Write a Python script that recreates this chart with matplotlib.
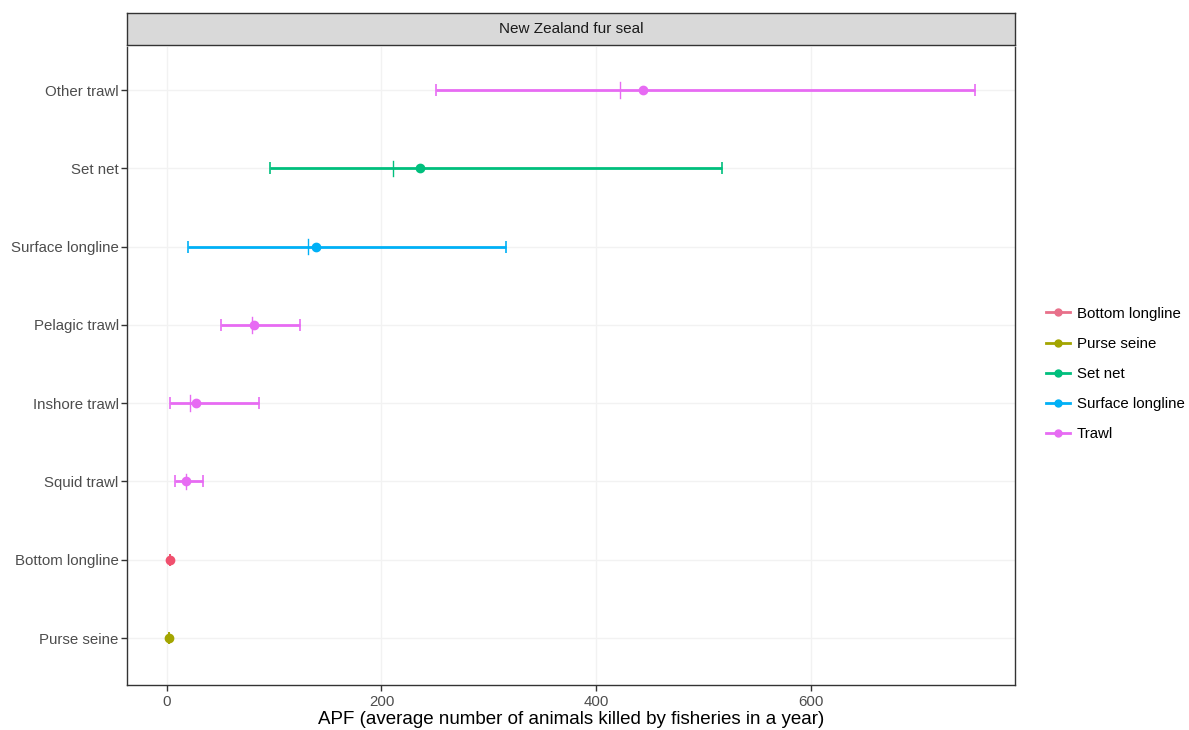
import matplotlib
matplotlib.use("Agg")
import matplotlib.pyplot as plt
from matplotlib.lines import Line2D

plt.rcParams['font.family'] = ['Liberation Sans', 'DejaVu Sans']

categories = ["Purse seine", "Bottom longline", "Squid trawl", "Inshore trawl",
              "Pelagic trawl", "Surface longline", "Set net", "Other trawl"]
method = ["Purse seine", "Bottom longline", "Trawl", "Trawl",
          "Trawl", "Surface longline", "Set net", "Trawl"]
mean_apf = [2, 3, 18, 27, 81, 139, 236, 444]
median_apf = [2, 3, 18, 22, 79, 132, 211, 422]
lower_ci = [2, 3, 8, 3, 51, 20, 96, 251]
upper_ci = [2, 3, 34, 86, 124, 316, 517, 753]

legend_labels = ["Bottom longline", "Purse seine", "Set net", "Surface longline", "Trawl"]
legend_colors = ["#F8766D", "#A3A500", "#00BF7D", "#00B0F6", "#E76BF3"]
color_map = dict(zip(legend_labels, legend_colors))
bl_color = "#F0506E"

fig = plt.figure(figsize=(11.89, 7.30), dpi=100)
ax = fig.add_axes([127/1189, 1-685/730, (1015-127)/1189, (685-47)/730])

ypos = list(range(len(categories)))
for i, cat in enumerate(categories):
    c = color_map[method[i]]
    if method[i] == "Bottom longline":
        c = bl_color
    ax.errorbar(mean_apf[i], ypos[i],
                xerr=[[mean_apf[i]-lower_ci[i]], [upper_ci[i]-mean_apf[i]]],
                fmt='o', color=c, ms=6, elinewidth=2, capsize=4, capthick=1.2, zorder=3)
    if upper_ci[i] > lower_ci[i]:
        ax.plot([median_apf[i], median_apf[i]], [ypos[i]-0.1, ypos[i]+0.1],
                color=c, lw=1.0, zorder=3)

ax.set_yticks(ypos)
ax.set_yticklabels(categories)
ax.set_xticks([0, 200, 400, 600])
ax.set_xlim(-37, 790)
ax.set_ylim(-0.6, 7.55)
ax.grid(True, color="#f2f2f2", lw=1.0, zorder=0)
ax.set_axisbelow(True)
for s in ax.spines.values():
    s.set_color("#333333")
    s.set_linewidth(1.0)
ax.spines['top'].set_visible(False)
ax.tick_params(axis='both', colors="#333333", labelsize=10.8, length=4, width=1, labelcolor="#4d4d4d")
ax.tick_params(axis='y', pad=2)
ax.set_xlabel("APF (average number of animals killed by fisheries in a year)",
              fontsize=13.5, color="black", labelpad=1)

# facet strip
strip = fig.add_axes([127/1189, 1-45/730, (1015-127)/1189, 32/730])
strip.set_facecolor("#d9d9d9")
strip.set_xticks([]); strip.set_yticks([])
for s in strip.spines.values():
    s.set_color("#333333")
    s.set_linewidth(1.0)
strip.text(0.5, 0.5, "New Zealand fur seal", ha='center', va='center',
           fontsize=11, color="#1a1a1a", transform=strip.transAxes)

handles = [Line2D([0], [0], color=c if l != "Bottom longline" else "#E8708A", lw=2, marker='o', ms=5)
           for l, c in zip(legend_labels, legend_colors)]
fig.legend(handles, legend_labels, loc='center left', bbox_to_anchor=(1032/1189, 1-374/730),
           frameon=False, fontsize=10.8, handlelength=1.6, labelspacing=1.08, handletextpad=0.5)

fig.savefig("out.png", dpi=100)
